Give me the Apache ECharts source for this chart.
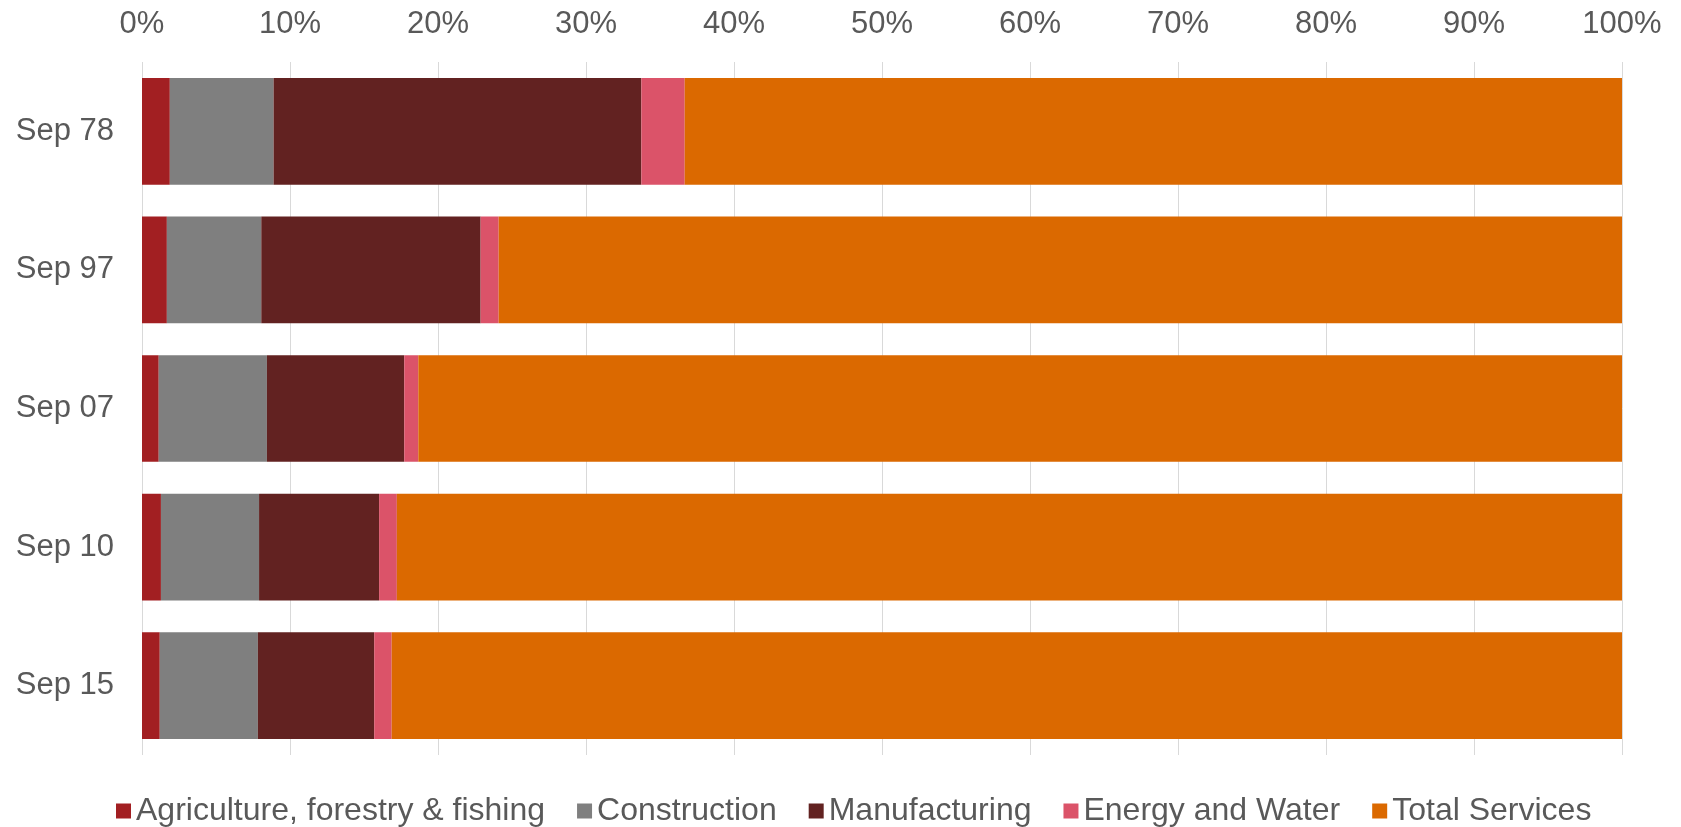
<!DOCTYPE html>
<html>
<head>
<meta charset="utf-8">
<title>Employment by sector</title>
<script src="https://cdn.jsdelivr.net/npm/echarts@6/dist/echarts.min.js"></script>
<style>
  html, body { margin: 0; padding: 0; background: #fff; }
  #chart { width: 1681px; height: 827px; }
</style>
</head>
<body>
<div id="chart"></div>
<script>
// categories (top to bottom)
var periods = ['Sep 78', 'Sep 97', 'Sep 07', 'Sep 10', 'Sep 15'];

// share of employment, %
var agriculture   = [1.88, 1.68, 1.13, 1.28, 1.20];
var construction  = [7.01, 6.38, 7.31, 6.63, 6.63];
var manufacturing = [24.85, 14.82, 9.28, 8.11, 7.86];
var energyWater   = [2.93, 1.22, 0.95, 1.20, 1.18];
var services      = [63.33, 75.90, 81.33, 82.78, 83.13];

var seriesNames = ['Agriculture, forestry & fishing', 'Construction', 'Manufacturing', 'Energy and Water', 'Total Services'];
var seriesData = [agriculture, construction, manufacturing, energyWater, services];
var colors = ['#A21F22', '#7F7F7F', '#622221', '#DB5369', '#DB6900'];

(function(){

var chart = echarts.init(document.getElementById('chart'));

var font = 'Liberation Sans, Arial, sans-serif';

var option = {
    color: colors,
    animation: false,
    textStyle: { fontFamily: font },
    legend: {
        data: seriesNames,
        top: 790,
        left: 111,
        itemWidth: 15,
        itemHeight: 15,
        itemGap: 32,
        icon: 'rect',
        textStyle: { fontSize: 32, color: '#595959', fontFamily: font }
    },
    grid: {
        left: 142,
        right: 59,
        top: 62,
        bottom: 72
    },
    xAxis: {
        type: 'value',
        position: 'top',
        min: 0,
        max: 100,
        interval: 10,
        axisLine: { show: false },
        axisTick: { show: false },
        axisLabel: {
            formatter: '{value}%',
            fontSize: 31,
            color: '#595959',
            margin: 22
        },
        splitLine: { lineStyle: { color: '#D9D9D9', width: 1 } }
    },
    yAxis: {
        type: 'category',
        inverse: true,
        data: periods,
        axisLine: { show: false },
        axisTick: { show: false },
        axisLabel: {
            fontSize: 31,
            color: '#595959',
            margin: 28
        }
    },
    series: seriesNames.map(function(name, i){
        return {
            name: name,
            type: 'bar',
            stack: 'total',
            barCategoryGap: '23%',
            data: seriesData[i]
        };
    })
};

chart.setOption(option);
})();
</script>
</body>
</html>
